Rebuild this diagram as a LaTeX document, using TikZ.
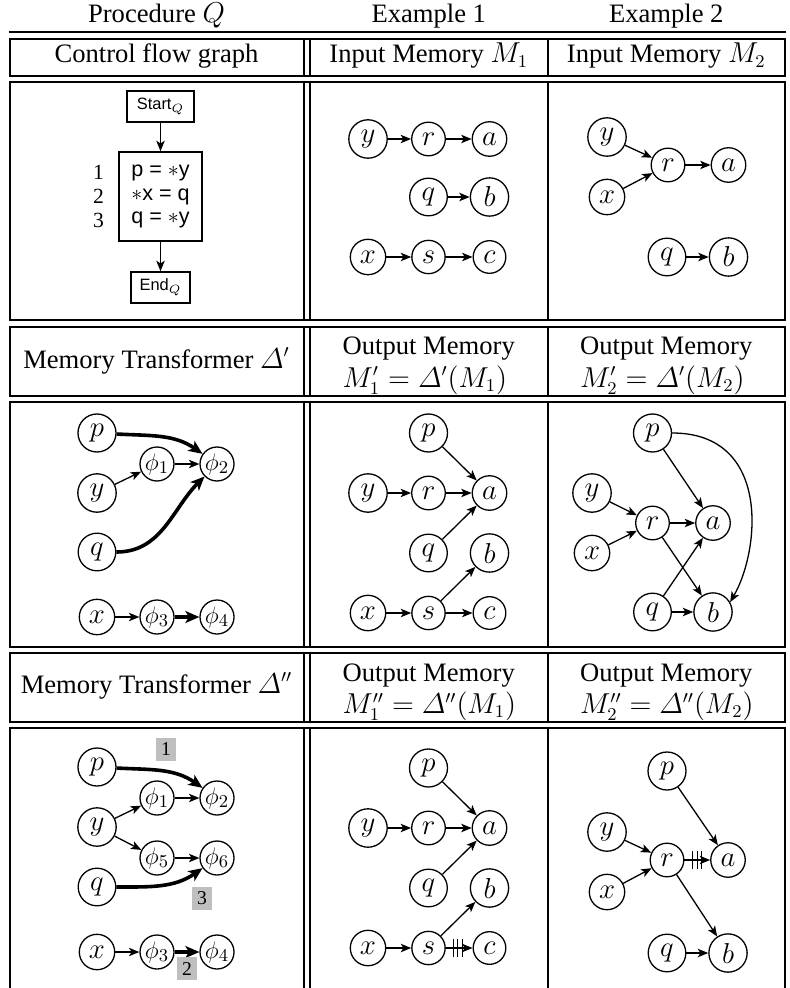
\documentclass[tikz,border=0pt]{standalone}
\usepackage{amsmath}
\usepackage{fontspec}
\setmainfont{Liberation Serif}
\newfontfamily\codefont{Liberation Sans}
\usetikzlibrary{arrows.meta}
\tikzset{
  x=0.5pt, y=0.5pt,
  tbl/.style={line width=1pt},
  txt/.style={inner sep=0pt, font=\fontsize{13.3}{16}\selectfont},
  mn/.style={circle, draw, line width=0.65pt, inner sep=2.7pt, font=\fontsize{13.3}{16}\selectfont},
  ph/.style={circle, draw, line width=0.65pt, inner sep=0pt, minimum size=17pt, font=\fontsize{13}{16}\selectfont},
  ed/.style={line width=0.65pt, -{Stealth[length=5.2pt,width=4.2pt,inset=1.3pt]}},
  ted/.style={line width=1.8pt, -{Stealth[length=7pt,width=6pt,inset=1.8pt]}},
  lbl/.style={fill=black!25, inner sep=0pt, minimum width=10pt, minimum height=11.5pt, font=\fontsize{9.8}{11}\selectfont},
  killmark/.style={inner sep=0pt},
  cfgbox/.style={draw, line width=0.8pt, inner sep=0pt},
}
\newcommand\killticks{\rule[-4.5pt]{0.5pt}{9pt}\hspace{1.85pt}\rule[-4.5pt]{0.5pt}{9pt}\hspace{1.85pt}\rule[-4.5pt]{0.5pt}{9pt}}
\begin{document}
\begin{tikzpicture}
\useasboundingbox (0,0) rectangle (789,-988);
% ---------------- table ----------------
\draw[tbl] (8.5,-32.5) -- (785.5,-32.5);
\foreach \ya/\yb in {39.5/76,82/320,327/396,402/647,653/722}{
  \draw[tbl] (9.5,-\ya) rectangle (784.5,-\yb);
  \draw[tbl] (303.5,-\ya) -- (303.5,-\yb) (309.5,-\ya) -- (309.5,-\yb) (548,-\ya) -- (548,-\yb);
}
\draw[tbl] (9.5,-1000) -- (9.5,-728.3) -- (784.5,-728.3) -- (784.5,-1000);
\draw[tbl] (303.5,-728.3) -- (303.5,-1000) (309.5,-728.3) -- (309.5,-1000) (548,-728.3) -- (548,-1000);
% ---------------- headers ----------------
\node[txt, anchor=base] (hP) at (156.5,-22.5) {Procedure $Q$};
\node[txt, anchor=base] (hE1) at (428.75,-22.5) {Example 1};
\node[txt, anchor=base] (hE2) at (666.25,-22.5) {Example 2};
\node[txt, anchor=base] (hC) at (156.5,-63) {Control flow graph};
\node[txt, anchor=base] (hI1) at (428.75,-63) {Input Memory $M_1$};
\node[txt, anchor=base] (hI2) at (666.25,-63) {Input Memory $M_2$};
\node[txt, anchor=base] (hT1) at (156.5,-368) {Memory Transformer $\varDelta'$};
\node[txt, anchor=base] (hO1) at (428.75,-355) {Output Memory};
\node[txt, anchor=base west] (hF1) at ([yshift=-16pt]hO1.base west) {$M_1' = \varDelta'(M_1)$};
\node[txt, anchor=base] (hO2) at (666.25,-355) {Output Memory};
\node[txt, anchor=base west] (hF2) at ([yshift=-16pt]hO2.base west) {$M_2' = \varDelta'(M_2)$};
\node[txt, anchor=base] (hT2) at (156.5,-693) {Memory Transformer $\varDelta''$};
\node[txt, anchor=base] (hO3) at (428.75,-681.5) {Output Memory};
\node[txt, anchor=base west] (hF3) at ([yshift=-16pt]hO3.base west) {$M_1'' = \varDelta''(M_1)$};
\node[txt, anchor=base] (hO4) at (666.25,-681.5) {Output Memory};
\node[txt, anchor=base west] (hF4) at ([yshift=-16pt]hO4.base west) {$M_2'' = \varDelta''(M_2)$};
% ---------------- CFG ----------------
\node[cfgbox, minimum width=33.5pt, minimum height=15.5pt, font=\codefont\fontsize{8.2}{10}\selectfont] (start) at (160.5,-106.5) {Start$_Q$};
\node[cfgbox, minimum width=41.5pt, minimum height=44.5pt, align=left, font=\codefont\fontsize{10.8}{11.8}\selectfont] (code) at (160.5,-196.5) {p = $\ast$y\\$\ast$x = q\\q = $\ast$y};
\node[anchor=east, inner sep=0pt, align=right, font=\fontsize{10.8}{11.8}\selectfont] (nums) at ([xshift=-7pt]code.west) {1\\2\\3};
\node[cfgbox, minimum width=29.5pt, minimum height=15.5pt, font=\codefont\fontsize{8.2}{10}\selectfont] (end) at (160.5,-287.5) {End$_Q$};
\draw[ed] (start) -- (code);
\draw[ed] (code) -- (end);
% ---------------- Input memory M1 ----------------
\node[mn] (Ay) at (368,-139) {$y$};
\node[mn] (Ar) at (428.5,-139) {$r$};
\node[mn] (Aa) at (489.5,-139) {$a$};
\node[mn] (Aq) at (428.5,-197) {$q$};
\node[mn] (Ab) at (489.5,-197) {$b$};
\node[mn] (Ax) at (368,-257) {$x$};
\node[mn] (As) at (428.5,-257) {$s$};
\node[mn] (Ac) at (489.5,-257) {$c$};
\draw[ed] (Ay) -- (Ar);
\draw[ed] (Ar) -- (Aa);
\draw[ed] (Aq) -- (Ab);
\draw[ed] (Ax) -- (As);
\draw[ed] (As) -- (Ac);
% ---------------- Input memory M2 ----------------
\node[mn] (By) at (607,-137) {$y$};
\node[mn] (Bx) at (607,-197) {$x$};
\node[mn] (Br) at (668,-165) {$r$};
\node[mn] (Ba) at (728.5,-165) {$a$};
\node[mn] (Bq) at (667,-257) {$q$};
\node[mn] (Bb) at (728.5,-257) {$b$};
\draw[ed] (By) -- (Br);
\draw[ed] (Bx) -- (Br);
\draw[ed] (Br) -- (Ba);
\draw[ed] (Bq) -- (Bb);
% ---------------- Transformer Delta' ----------------
\node[mn] (Cp) at (97,-433) {$p$};
\node[ph] (Cf1) at (157,-464) {$\phi_1$};
\node[ph] (Cf2) at (217,-464) {$\phi_2$};
\node[mn] (Cy) at (97,-493) {$y$};
\node[mn] (Cq) at (97,-552) {$q$};
\node[mn] (Cx) at (97,-617) {$x$};
\node[ph] (Cf3) at (157,-617) {$\phi_3$};
\node[ph] (Cf4) at (217,-617) {$\phi_4$};
\draw[ted] (Cp) to[out=-3,in=145] (Cf2);
\draw[ed] (Cy) -- (Cf1);
\draw[ed] (Cf1) -- (Cf2);
\draw[ted] (Cq) to[out=0,in=225] (Cf2);
\draw[ed] (Cx) -- (Cf3);
\draw[ted] (Cf3) -- (Cf4);
% ---------------- Output memory M1' ----------------
\node[mn] (Dp) at (428.5,-433) {$p$};
\node[mn] (Dy) at (368,-493) {$y$};
\node[mn] (Dr) at (428.5,-493) {$r$};
\node[mn] (Da) at (489.5,-493) {$a$};
\node[mn] (Dq) at (428.5,-553) {$q$};
\node[mn] (Db) at (489.5,-553) {$b$};
\node[mn] (Dx) at (368,-613) {$x$};
\node[mn] (Ds) at (428.5,-613) {$s$};
\node[mn] (Dc) at (489.5,-613) {$c$};
\draw[ed] (Dp) -- (Da);
\draw[ed] (Dy) -- (Dr);
\draw[ed] (Dr) -- (Da);
\draw[ed] (Dq) -- (Da);
\draw[ed] (Dx) -- (Ds);
\draw[ed] (Ds) -- (Db);
\draw[ed] (Ds) -- (Dc);
% ---------------- Output memory M2' ----------------
\node[mn] (Ep) at (652.5,-433) {$p$};
\node[mn] (Ey) at (592,-493) {$y$};
\node[mn] (Er) at (652.5,-523) {$r$};
\node[mn] (Ea) at (713,-523) {$a$};
\node[mn] (Ex) at (592,-553) {$x$};
\node[mn] (Eq) at (652.5,-612) {$q$};
\node[mn] (Eb) at (713,-612) {$b$};
\draw[ed] (Ep) -- (Ea);
\draw[ed] (Ep.east) .. controls +(99,0) and +(30,52) .. (Eb.30);
\draw[ed] (Ey) -- (Er);
\draw[ed] (Ex) -- (Er);
\draw[ed] (Er) -- (Ea);
\draw[ed] (Er) -- (Eb);
\draw[ed] (Eq) -- (Ea);
\draw[ed] (Eq) -- (Eb);
% ---------------- Transformer Delta'' ----------------
\node[mn] (Fp) at (97,-767) {$p$};
\node[ph] (Ff1) at (157,-798) {$\phi_1$};
\node[ph] (Ff2) at (217,-798) {$\phi_2$};
\node[mn] (Fy) at (97,-827) {$y$};
\node[ph] (Ff5) at (157,-858) {$\phi_5$};
\node[ph] (Ff6) at (217,-858) {$\phi_6$};
\node[mn] (Fq) at (97,-887) {$q$};
\node[mn] (Fx) at (97,-952) {$x$};
\node[ph] (Ff3) at (157,-952) {$\phi_3$};
\node[ph] (Ff4) at (217,-952) {$\phi_4$};
\draw[ted] (Fp) to[out=-3,in=145] (Ff2);
\draw[ed] (Fy) -- (Ff1);
\draw[ed] (Ff1) -- (Ff2);
\draw[ed] (Fy) -- (Ff5);
\draw[ed] (Ff5) -- (Ff6);
\draw[ted] (Fq) to[out=0,in=215] (Ff6);
\draw[ed] (Fx) -- (Ff3);
\draw[ted] (Ff3) -- (Ff4);
\node[lbl] (L1) at (166,-749.5) {1};
\node[lbl] (L3) at (202,-898) {3};
\node[lbl] (L2) at (187,-968.5) {2};
% ---------------- Output memory M1'' ----------------
\node[mn] (Gp) at (428.5,-768) {$p$};
\node[mn] (Gy) at (368,-828) {$y$};
\node[mn] (Gr) at (428.5,-828) {$r$};
\node[mn] (Ga) at (489.5,-828) {$a$};
\node[mn] (Gq) at (428.5,-888) {$q$};
\node[mn] (Gb) at (489.5,-888) {$b$};
\node[mn] (Gx) at (368,-948) {$x$};
\node[mn] (Gs) at (428.5,-948) {$s$};
\node[mn] (Gc) at (489.5,-948) {$c$};
\draw[ed] (Gp) -- (Ga);
\draw[ed] (Gy) -- (Gr);
\draw[ed] (Gr) -- (Ga);
\draw[ed] (Gq) -- (Ga);
\draw[ed] (Gx) -- (Gs);
\draw[ed] (Gs) -- (Gb);
\draw[ed] (Gs) -- node[killmark, pos=0.45] (Gk) {\killticks} (Gc);
% ---------------- Output memory M2'' ----------------
\node[mn] (Hp) at (667,-771) {$p$};
\node[mn] (Hy) at (607,-832) {$y$};
\node[mn] (Hr) at (667,-860) {$r$};
\node[mn] (Ha) at (728,-860) {$a$};
\node[mn] (Hx) at (607,-892) {$x$};
\node[mn] (Hq) at (667,-953) {$q$};
\node[mn] (Hb) at (728,-953) {$b$};
\draw[ed] (Hp) -- (Ha);
\draw[ed] (Hy) -- (Hr);
\draw[ed] (Hx) -- (Hr);
\draw[ed] (Hr) -- node[killmark] (Hk) {\killticks} (Ha);
\draw[ed] (Hr) -- (Hb);
\draw[ed] (Hq) -- (Hb);
\end{tikzpicture}
\end{document}
